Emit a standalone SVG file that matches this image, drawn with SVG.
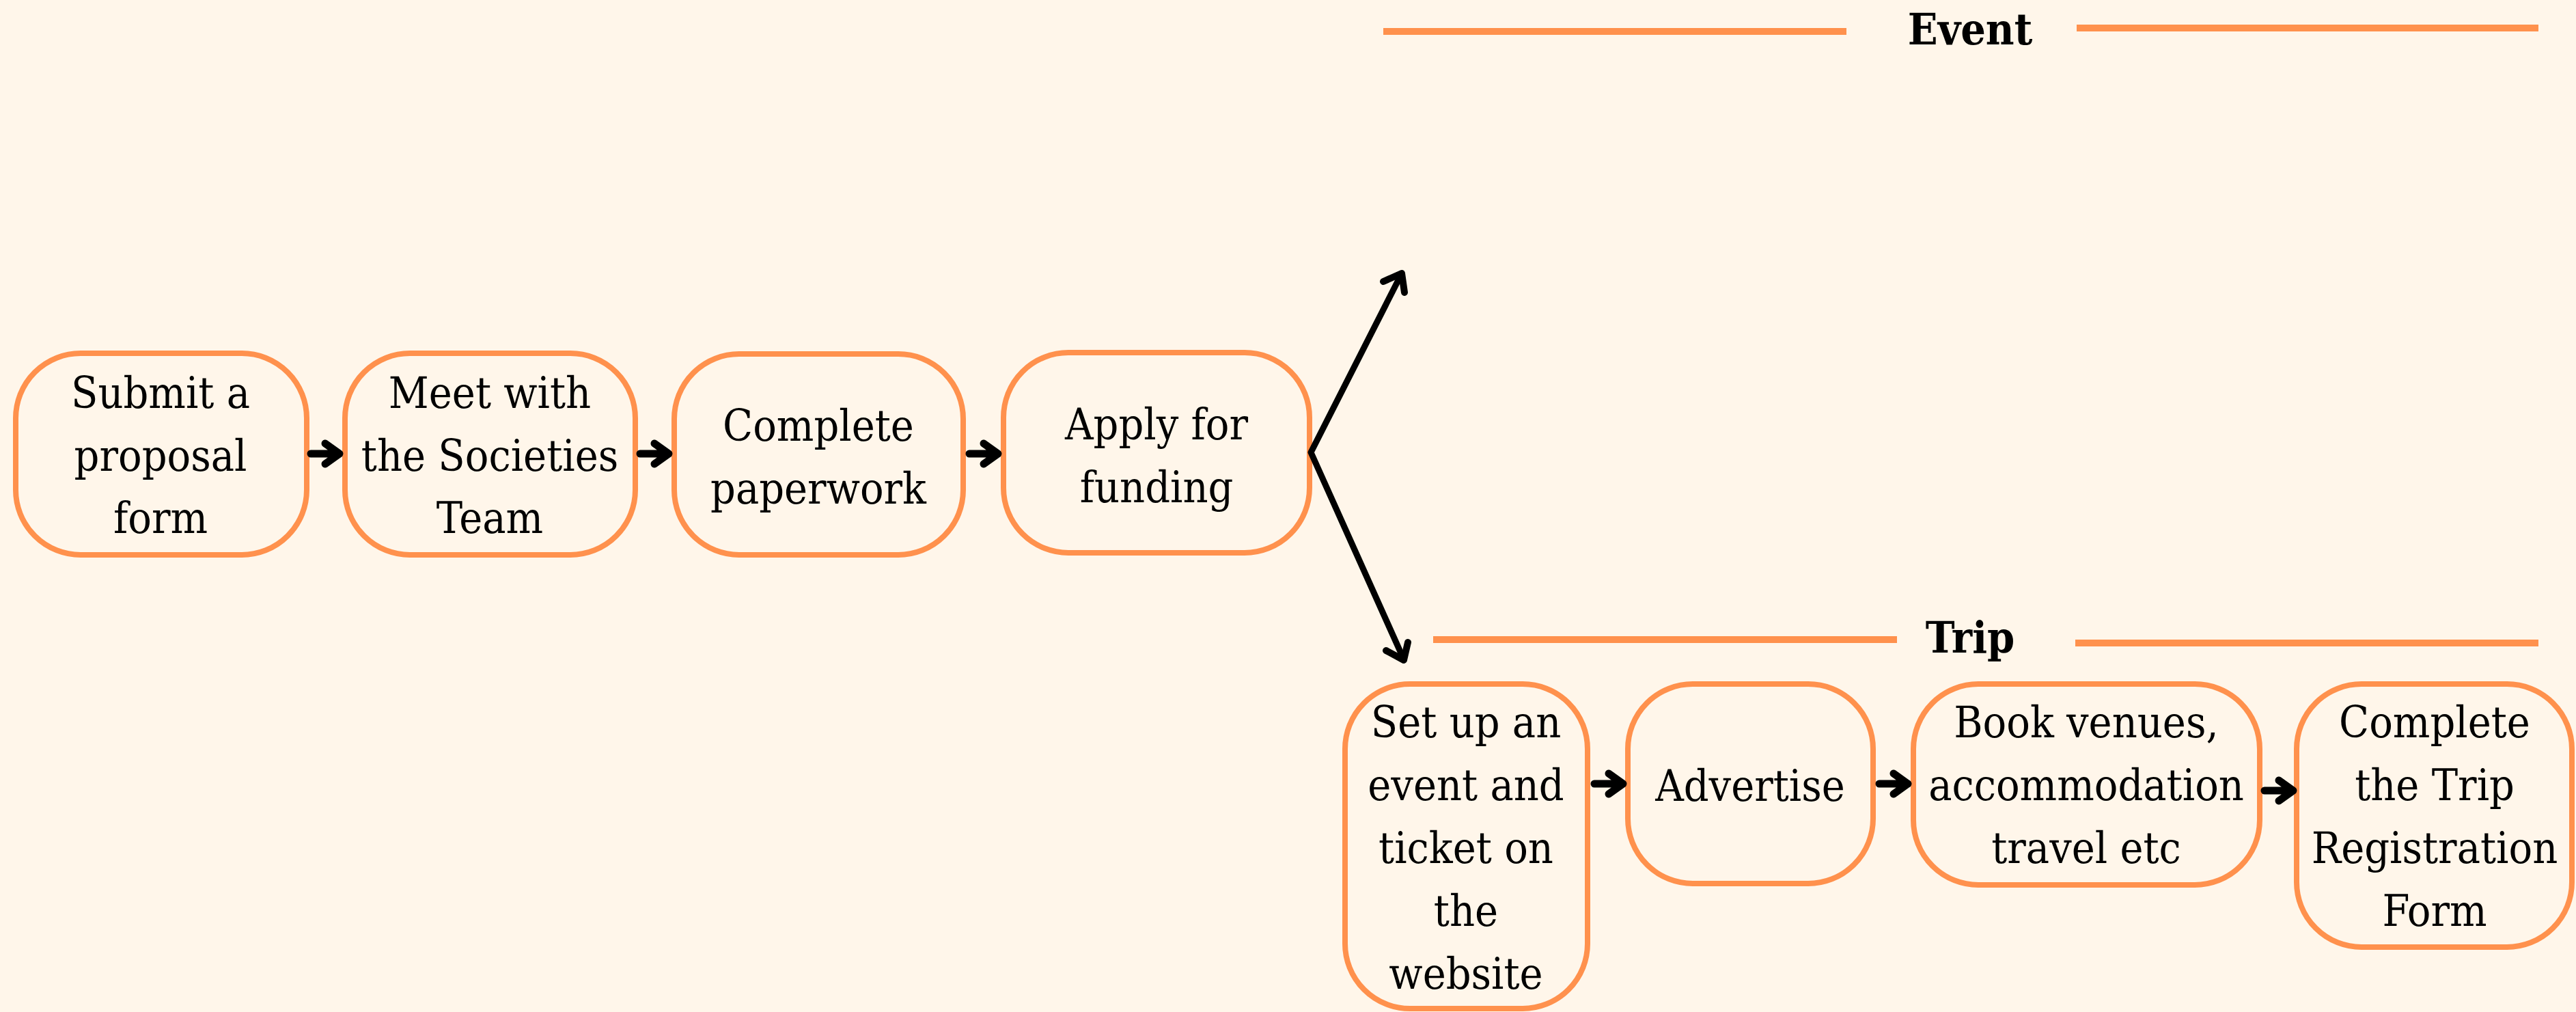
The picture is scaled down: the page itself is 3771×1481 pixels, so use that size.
<svg xmlns="http://www.w3.org/2000/svg" xmlns:xlink="http://www.w3.org/1999/xlink" width="3771" height="1481" viewBox="0 0 3771 1481">
  <style>
    .box { fill: #FFF6EA; stroke: #FF914D; stroke-width: 8; }
    .label { font-family: 'DejaVu Serif Condensed', 'DejaVu Serif', serif; font-stretch: condensed; font-size: 64px; fill: #000; text-anchor: middle; }
    .head { font-family: 'DejaVu Serif Condensed', 'DejaVu Serif', serif; font-stretch: condensed; font-weight: bold; font-size: 64px; fill: #000; text-anchor: middle; }
    .rule { stroke: #FF914D; stroke-width: 10; }
    .conn { fill: none; stroke: #000; stroke-linecap: round; stroke-linejoin: round; }
  </style>
  <defs>
    <!-- short step arrow, tip at the origin pointing right -->
    <path id="step" class="conn" stroke-width="11" d="M-44 0 H-3 M-23 -15 L-2 0 L-23 15"/>
  </defs>

  <rect width="3771" height="1481" fill="#FFF6EA"/>

  <!-- section headings -->
  <g id="heading-event">
    <line class="rule" x1="2025" y1="46" x2="2703" y2="46"/>
    <text class="head" x="2884" y="65">Event</text>
    <line class="rule" x1="3040" y1="41" x2="3716" y2="41"/>
  </g>
  <g id="heading-trip">
    <line class="rule" x1="2098" y1="936" x2="2777" y2="936"/>
    <text class="head" x="2884" y="955">Trip</text>
    <line class="rule" x1="3038" y1="941" x2="3716" y2="941"/>
  </g>

  <!-- top row -->
  <g id="submit-proposal">
    <rect class="box" x="23" y="517" width="426" height="295" rx="95"/>
    <text class="label" x="235"><tspan x="235" y="597">Submit a</tspan><tspan x="235" y="689">proposal</tspan><tspan x="235" y="780">form</tspan></text>
  </g>
  <g id="meet-team">
    <rect class="box" x="505" y="517" width="425" height="295" rx="95"/>
    <text class="label" x="717"><tspan x="717" y="597">Meet with</tspan><tspan x="717" y="689">the Societies</tspan><tspan x="717" y="780">Team</tspan></text>
  </g>
  <g id="complete-paperwork">
    <rect class="box" x="987" y="518" width="423" height="294" rx="95"/>
    <text class="label" x="1198"><tspan x="1198" y="645">Complete</tspan><tspan x="1198" y="737">paperwork</tspan></text>
  </g>
  <g id="apply-funding">
    <rect class="box" x="1469" y="516" width="448" height="293" rx="95"/>
    <text class="label" x="1693"><tspan x="1693" y="643">Apply for</tspan><tspan x="1693" y="735">funding</tspan></text>
  </g>

  <!-- trip row -->
  <g id="setup-event">
    <rect class="box" x="1969" y="1001" width="355" height="475" rx="95"/>
    <text class="label" x="2146"><tspan x="2146" y="1079">Set up an</tspan><tspan x="2146" y="1171">event and</tspan><tspan x="2146" y="1263">ticket on</tspan><tspan x="2146" y="1355">the</tspan><tspan x="2146" y="1447">website</tspan></text>
  </g>
  <g id="advertise">
    <rect class="box" x="2383" y="1001" width="359" height="292" rx="95"/>
    <text class="label" x="2562" y="1172">Advertise</text>
  </g>
  <g id="book-venues">
    <rect class="box" x="2801" y="1001" width="507" height="294" rx="95"/>
    <text class="label" x="3054"><tspan x="3054" y="1079">Book venues,</tspan><tspan x="3054" y="1171">accommodation</tspan><tspan x="3054" y="1263">travel etc</tspan></text>
  </g>
  <g id="trip-registration">
    <rect class="box" x="3362" y="1001" width="403" height="385" rx="95"/>
    <text class="label" x="3564"><tspan x="3564" y="1079">Complete</tspan><tspan x="3564" y="1171">the Trip</tspan><tspan x="3564" y="1263">Registration</tspan><tspan x="3564" y="1355">Form</tspan></text>
  </g>

  <!-- connectors -->
  <g id="connectors">
    <use xlink:href="#step" x="499" y="664"/>
    <use xlink:href="#step" x="981" y="664"/>
    <use xlink:href="#step" x="1463" y="664"/>
    <use xlink:href="#step" x="2378" y="1147"/>
    <use xlink:href="#step" x="2795" y="1147"/>
    <use xlink:href="#step" x="3359" y="1157"/>
    <!-- fork from "Apply for funding" -->
    <polyline class="conn" stroke-width="9" points="2051,402 1919,662 2055,965"/>
    <polyline class="conn" stroke-width="10" points="2025,412 2052,400 2056,428"/>
    <polyline class="conn" stroke-width="10" points="2029,952 2055,966 2061,940"/>
  </g>
</svg>
